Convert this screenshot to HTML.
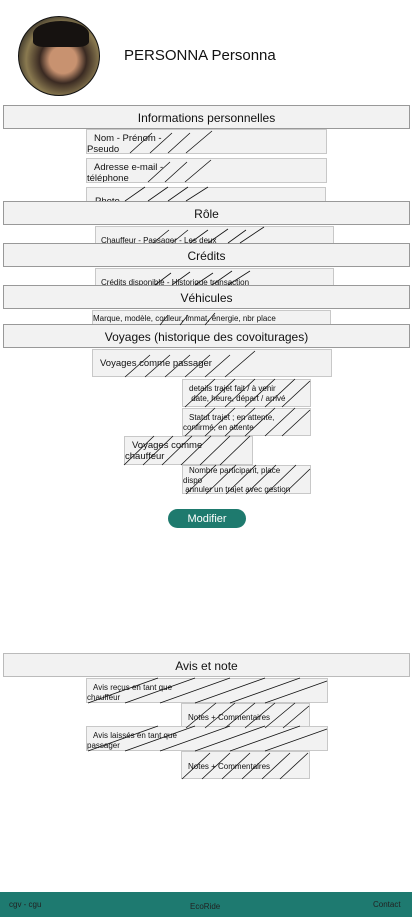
<!DOCTYPE html>
<html><head><meta charset="utf-8"><style>
body{margin:0;width:412px;height:917px;position:relative;background:#fff;font-family:"Liberation Sans",sans-serif;overflow:hidden;color:#111}
.a{position:absolute;box-sizing:border-box}
.h{left:3px;width:407px;height:24px;background:#f2f2f2;border:1px solid #999;text-align:center;font-size:12px;line-height:24px}
.b{background:#f2f2f2;border:1px solid #c8c8c8;font-size:9.5px;line-height:11px;overflow:hidden}
.s{font-size:8px;line-height:10px}
svg.hat{position:absolute;left:0;top:0;pointer-events:none}
</style></head><body>
<div class="a" style="left:18px;top:16px;width:82px;height:80px;border-radius:50%;border:1.5px solid #111;background:radial-gradient(circle at 55% 55%,#c89270 0 22%,#3a2a22 38%,#8a7a50 60%,#2a2622 80%);overflow:hidden"><div style="position:absolute;left:14px;top:4px;width:56px;height:26px;border-radius:50% 50% 20% 20%;background:#161210"></div></div>
<div class="a" style="left:124px;top:47px;font-size:15px">PERSONNA Personna</div>

<div class="a b" style="left:86px;top:129px;width:241px;height:25px;padding:3px 0 0 0"><span style="padding-left:7px">Nom - Prénom -</span><br>Pseudo</div>
<div class="a b" style="left:86px;top:158px;width:241px;height:25px;padding:3px 0 0 0"><span style="padding-left:7px">Adresse e-mail -</span><br>téléphone</div>
<div class="a b" style="left:86px;top:187px;width:240px;height:16px;padding:8px 0 0 8px">Photo</div>
<div class="a h" style="top:105px">Informations personnelles</div>
<div class="a h" style="top:201px">Rôle</div>
<div class="a b s" style="left:95px;top:226px;width:239px;height:18px;padding:9px 0 0 5px">Chauffeur - Passager - Les deux</div>
<div class="a h" style="top:243px">Crédits</div>
<div class="a b s" style="left:95px;top:268px;width:239px;height:18px;padding:9px 0 0 5px">Crédits disponible - Historique transaction</div>
<div class="a h" style="top:285px">Véhicules</div>
<div class="a b s" style="left:92px;top:310px;width:239px;height:15px;padding:3px 0 0 0">Marque, modèle, couleur, immat, énergie, nbr place</div>
<div class="a h" style="top:324px">Voyages (historique des covoiturages)</div>

<div class="a b" style="left:92px;top:349px;width:240px;height:28px;padding:8px 0 0 7px">Voyages comme passager</div>
<div class="a b s" style="left:182px;top:379px;width:129px;height:28px;padding:4px 0 0 6px">details trajet fait / à venir<br>&nbsp;date, heure, départ / arrivé</div>
<div class="a b s" style="left:182px;top:408px;width:129px;height:28px;padding:4px 0 0 0"><span style="padding-left:6px">Statut trajet ; en attente,</span><br>confirmé, en attente</div>
<div class="a b" style="left:124px;top:436px;width:129px;height:29px;padding:3px 0 0 0"><span style="padding-left:7px">Voyages comme</span><br>chauffeur</div>
<div class="a b s" style="left:182px;top:465px;width:129px;height:29px;padding:0 0 0 0;line-height:9.5px"><span style="padding-left:6px">Nombre participant, place</span><br>dispo<br>&nbsp;annuler un trajet avec gestion</div>

<div class="a" style="left:168px;top:509px;width:78px;height:19px;border-radius:10px;background:#1e7a6e;color:#fff;font-size:11px;line-height:19px;padding-top:1px;text-align:center">Modifier</div>

<div class="a h" style="top:653px;border-color:#bbb">Avis et note</div>
<div class="a b s" style="left:86px;top:678px;width:242px;height:25px;padding:4px 0 0 0"><span style="padding-left:6px">Avis reçus en tant que</span><br>chauffeur</div>
<div class="a b s" style="left:181px;top:703px;width:129px;height:25px;padding:9px 0 0 6px">Notes + Commentaires</div>
<div class="a b s" style="left:86px;top:726px;width:242px;height:25px;padding:4px 0 0 0"><span style="padding-left:6px">Avis laissés en tant que</span><br>passager</div>
<div class="a b s" style="left:181px;top:751px;width:129px;height:28px;padding:10px 0 0 6px">Notes + Commentaires</div>

<svg class="hat" width="412" height="917" stroke="#111" stroke-width="0.8">
<g>
<path d="M130 153l22-20M150 153l22-20M168 153l22-20M186 153l26-22M148 182l22-20M165 182l22-20M185 182l26-22M125 201l20-14M148 201l20-14M168 201l20-14M186 201l22-14"/>
<path d="M153 243l16-13M172 243l16-13M190 243l18-13M208 243l20-14M228 243l18-13M240 243l24-16M155 285l16-12M172 285l18-13M195 285l18-12M212 285l20-14M228 285l22-14"/>
<path d="M160 325l8-10M180 325l8-10M205 325l10-12"/>
<path d="M125 377l25-22M145 377l25-22M165 377l25-22M185 377l25-22M205 377l25-22M225 377l30-26"/>
<path d="M185 407l30-28M205 407l30-28M225 407l30-28M245 407l30-28M265 407l30-28M282 407l28-26M185 436l30-28M205 436l30-28M225 436l30-28M245 436l30-28M265 436l30-28M282 436l28-26"/>
<path d="M124 465l30-29M143 465l30-29M162 465l30-29M181 465l30-29M200 465l30-29M220 465l30-29M186 494l30-29M206 494l30-29M226 494l30-29M246 494l30-29M266 494l30-29M284 494l26-25"/>
<path d="M88 703l70-25M125 703l70-25M160 703l70-25M195 703l70-25M230 703l70-25M265 703l62-22M186 728l30-25M205 728l30-25M225 728l30-25M245 728l30-25M265 728l30-25M283 728l26-22"/>
<path d="M88 751l70-25M125 751l70-25M160 751l70-25M195 751l70-25M230 751l70-25M265 751l62-22M182 779l28-26M202 779l28-26M222 779l28-26M242 779l28-26M262 779l28-26M280 779l28-26"/>
</g></svg>

<div class="a" style="left:0;top:892px;width:412px;height:25px;background:#1e7a70"></div>
<div class="a" style="left:9px;top:900px;font-size:8px;color:#222">cgv - cgu</div>
<div class="a" style="left:190px;top:902px;font-size:8px;color:#222">EcoRide</div>
<div class="a" style="left:373px;top:900px;font-size:8px;color:#222">Contact</div>
</body></html>
